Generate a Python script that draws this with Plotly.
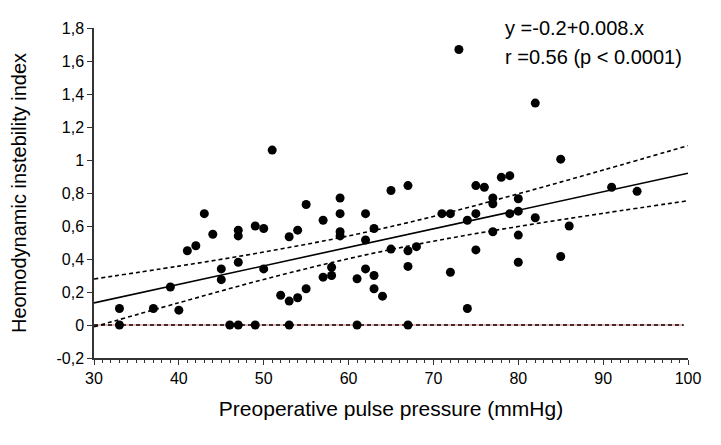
import plotly.graph_objects as go

# Preoperative pulse pressure (mmHg) vs heomodynamic instability index
pulse_pressure = [33, 33, 37, 39, 40, 41, 42, 43, 44, 45, 45, 46, 47, 47, 47, 47,
                  49, 49, 50, 50, 51, 52, 53, 53, 53, 54, 54, 55, 55, 57, 57, 58,
                  58, 59, 59, 59, 59, 61, 61, 62, 62, 62, 63, 63, 63, 64, 65, 65,
                  67, 67, 67, 67, 68, 71, 72, 72, 73, 74, 74, 75, 75, 75, 76, 77,
                  77, 77, 78, 79, 79, 80, 80, 80, 80, 82, 82, 85, 85, 86, 91, 94]
instability = [0.10, 0, 0.10, 0.23, 0.09, 0.45, 0.48, 0.675, 0.55, 0.34, 0.275, 0,
               0, 0.575, 0.54, 0.38, 0, 0.60, 0.585, 0.34, 1.06, 0.18, 0.145, 0,
               0.535, 0.165, 0.575, 0.73, 0.22, 0.635, 0.29, 0.30, 0.35, 0.77,
               0.675, 0.565, 0.54, 0.28, 0, 0.675, 0.515, 0.34, 0.585, 0.30, 0.22,
               0.175, 0.815, 0.46, 0.845, 0.45, 0.355, 0, 0.475, 0.675, 0.675,
               0.32, 1.67, 0.635, 0.10, 0.845, 0.675, 0.455, 0.835, 0.77, 0.735,
               0.565, 0.895, 0.905, 0.675, 0.765, 0.69, 0.545, 0.38, 1.345, 0.65,
               1.005, 0.415, 0.60, 0.835, 0.81]

# regression line and 95% confidence band
band_x = [30, 40, 50, 60, 70, 80, 90, 100]
fit_y = [0.134, 0.246, 0.359, 0.471, 0.583, 0.696, 0.808, 0.920]
upper_y = [0.279, 0.357, 0.442, 0.540, 0.658, 0.795, 0.939, 1.087]
lower_y = [-0.011, 0.135, 0.276, 0.402, 0.508, 0.597, 0.677, 0.753]

zero_x = [30, 99.5]
zero_y = [0, 0]

y_ticks = [-0.2, 0, 0.2, 0.4, 0.6, 0.8, 1.0, 1.2, 1.4, 1.6, 1.8]
y_labels = ['-0,2', '0', '0,2', '0,4', '0,6', '0,8', '1', '1,2', '1,4', '1,6', '1,8']
x_ticks = [30, 40, 50, 60, 70, 80, 90, 100]

font = 'Liberation Sans, Arial, sans-serif'
dash = '4px,3px'

zero_red = go.Scatter(x=zero_x, y=zero_y, mode='lines',
                      line={'color': '#e07070', 'width': 1})
zero_dash = go.Scatter(x=zero_x, y=zero_y, mode='lines',
                       line={'color': 'black', 'width': 1.6, 'dash': dash})
upper = go.Scatter(x=band_x, y=upper_y, mode='lines',
                   line={'color': 'black', 'width': 1.6, 'dash': dash, 'shape': 'spline'})
lower = go.Scatter(x=band_x, y=lower_y, mode='lines',
                   line={'color': 'black', 'width': 1.6, 'dash': dash, 'shape': 'spline'})
fit = go.Scatter(x=band_x, y=fit_y, mode='lines',
                 line={'color': 'black', 'width': 1.6})
points = go.Scatter(x=pulse_pressure, y=instability, mode='markers',
                    marker={'color': 'black', 'size': 9})

# the page body adds an 8px offset, margins compensate for it
layout = go.Layout(
    width=721, height=445,
    margin=dict(l=86, r=41, t=20, b=95),
    paper_bgcolor='white', plot_bgcolor='white',
    showlegend=False,
    font=dict(family=font, size=16, color='black'),
    xaxis=dict(
        range=[30, 100], tickvals=x_ticks, automargin=False,
        showline=True, linecolor='#333333', linewidth=1.5,
        ticks='outside', ticklen=5, tickcolor='#333333', tickwidth=1.2,
        minor=dict(dtick=1, ticks='outside', ticklen=3, tickcolor='#333333'),
        showgrid=False, zeroline=False,
        title=dict(text='Preoperative pulse pressure (mmHg)', font=dict(size=21), standoff=15),
    ),
    yaxis=dict(
        range=[-0.2, 1.8], tickvals=y_ticks, ticktext=y_labels, automargin=False,
        showline=True, linecolor='#333333', linewidth=1.5,
        ticks='outside', ticklen=5, tickcolor='#333333', tickwidth=1.2,
        showgrid=False, zeroline=False,
        title=dict(text='Heomodynamic instebility index', font=dict(size=20), standoff=32),
    ),
)

fig = go.Figure(data=[zero_red, zero_dash, upper, lower, fit, points], layout=layout)
fig.add_annotation(x=78.2, y=1.80, text='y =-0.2+0.008.x', showarrow=False,
                   xanchor='left', yanchor='middle', font=dict(size=20))
fig.add_annotation(x=78.2, y=1.625, text='r =0.56 (p < 0.0001)', showarrow=False,
                   xanchor='left', yanchor='middle', font=dict(size=20))

fig.write_html('out.html')
